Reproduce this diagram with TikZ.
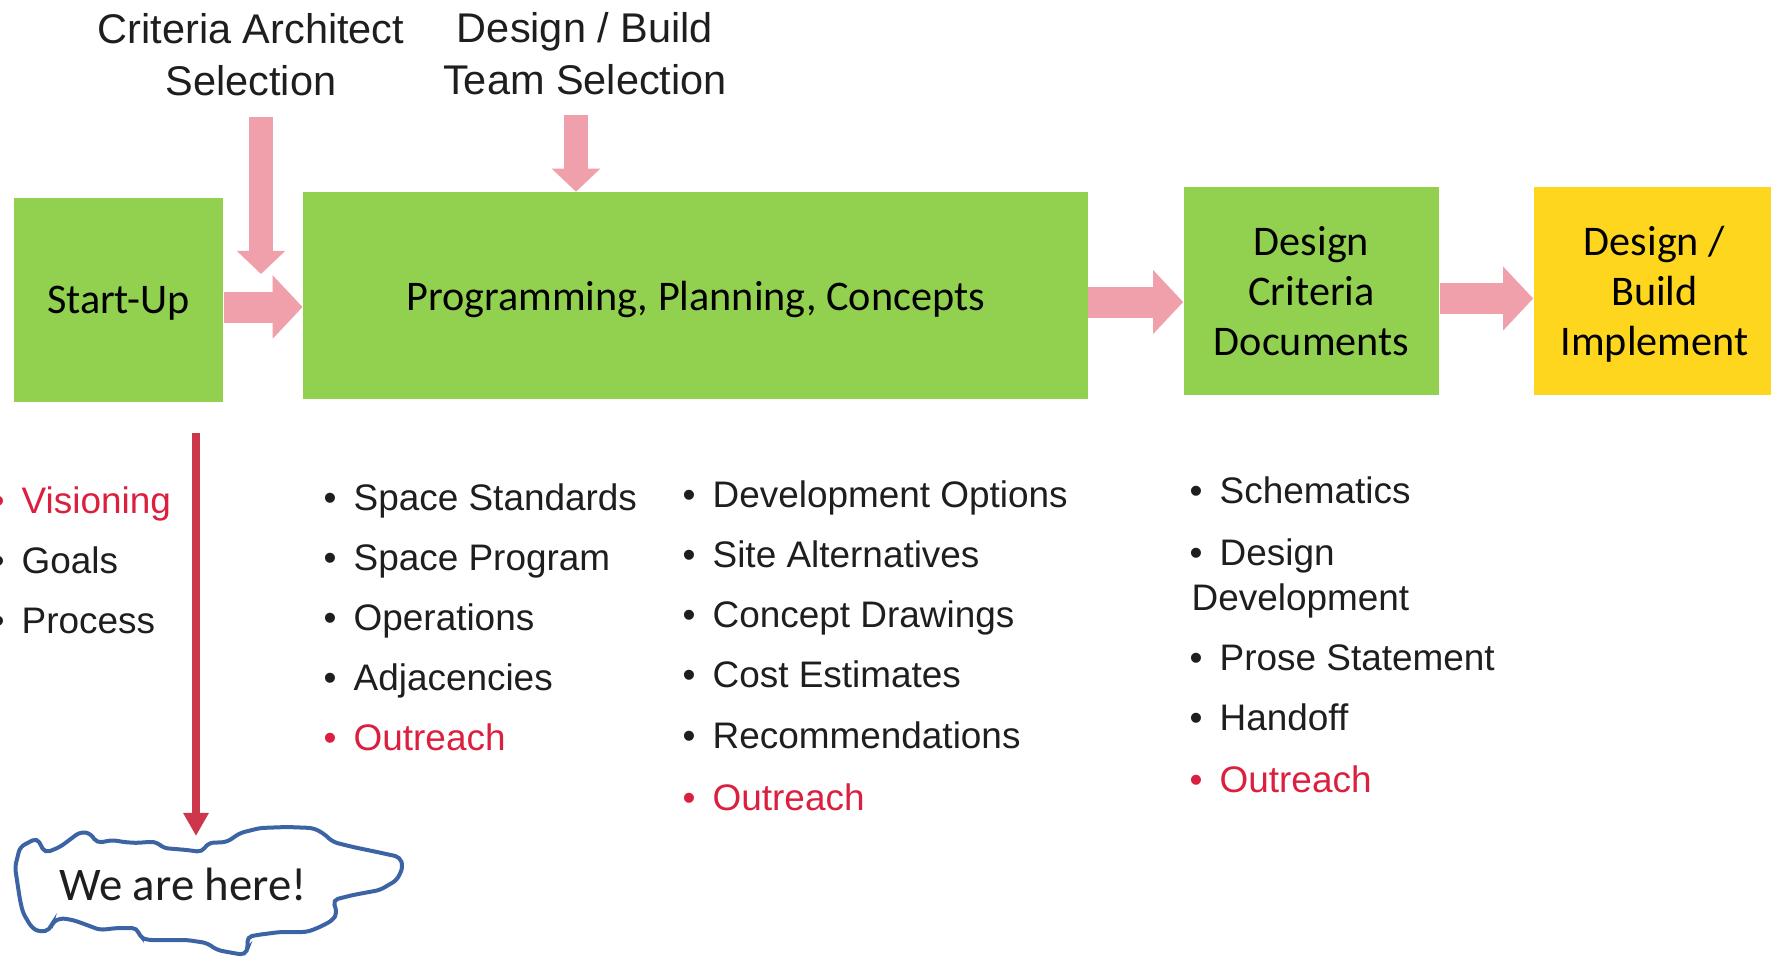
\documentclass[tikz,border=0pt]{standalone}
\usepackage{fontspec}
\setmainfont{Liberation Sans}
\newfontfamily\calibri{Carlito}
\usetikzlibrary{arrows.meta}
\definecolor{boxgreen}{RGB}{146,208,80}
\definecolor{boxyellow}{RGB}{255,214,30}
\definecolor{arrowpink}{RGB}{240,160,170}
\definecolor{textred}{RGB}{218,32,62}
\definecolor{linered}{RGB}{205,55,75}
\definecolor{cloudblue}{RGB}{60,100,165}
\definecolor{textgray}{RGB}{30,30,30}
\newcommand{\itm}[1]{\makebox[0pt][r]{\textbullet\hspace{4.85pt}}#1}
\begin{document}
\begin{tikzpicture}[
		x=0.01cm, y=-0.01cm,
		stage/.style={fill=boxgreen, inner sep=0pt, align=center, text=black,
				font=\calibri\fontsize{12}{14.2}\selectfont},
		toptext/.style={align=center, inner sep=0pt, text=textgray,
				font=\fontsize{11.8}{14.8}\selectfont},
		item/.style={anchor=base west, inner sep=0pt, text=textgray,
				font=\fontsize{10.5}{12.6}\selectfont},
		fat/.style={draw=arrowpink, line width=0.31cm, -{Triangle[length=0.3cm,width=0.62cm]}},
		drop/.style={draw=arrowpink, line width=0.235cm, -{Triangle[length=0.23cm,width=0.47cm]}}
	]
	\useasboundingbox (0,0) rectangle (1771,960);

	% process boxes
	\node[stage, text depth=0pt, minimum width=2.09cm, minimum height=2.04cm] (startup) at (118.5,300) {Start-Up};
	\node[stage, text depth=0pt, minimum width=7.84cm, minimum height=2.06cm] (prog) at (695.5,295.5) {Programming, Planning, Concepts};
	\node[stage, minimum width=2.55cm, minimum height=2.07cm] (dcd) at (1311.5,291) {Design\\Criteria\\Documents};
	\node[stage, fill=boxyellow, text depth=0pt, minimum width=2.41cm, minimum height=2.07cm] (dbi) at (1654.5,291) {Design /\\Build\\Implement};

	% selections from above
	\node[toptext] (archsel) at (251,55) {Criteria Architect\\Selection};
	\node[toptext] (teamsel) at (585,54) {Design / Build\\Team Selection};
	\coordinate (archtop) at (261,117);
	\coordinate (archtip) at (261,274);
	\coordinate (teamtop) at (576,115);
	\draw[drop] (archtop) -- (archtip);
	\draw[drop] (teamtop) -- (teamtop |- prog.north);

	% flow arrows
	\draw[fat] ([yshift=-0.07cm]startup.east) -- ([yshift=-0.07cm]startup.east -| prog.west);
	\draw[fat] ([yshift=-0.065cm]prog.east) -- ([yshift=-0.065cm]prog.east -| dcd.west);
	\draw[fat] ([yshift=-0.075cm]dcd.east) -- ([yshift=-0.075cm]dcd.east -| dbi.west);

	% start-up items
	\node[item, text=textred] (vis) at (21,513) {\itm{Visioning}};
	\node[item] (goals) at (21,573) {\itm{Goals}};
	\node[item] (proc) at (21,633) {\itm{Process}};

	% programming items
	\foreach \txt [count=\i] in {Space Standards, Space Program, Operations, Adjacencies}
	\node[item] (space\i) at (353,{510+60*(\i-1)}) {\itm{\txt}};
	\node[item, text=textred] (space5) at (353,750) {\itm{Outreach}};

	\foreach \txt [count=\i] in {Development Options, Site Alternatives, Concept Drawings, Cost Estimates, Recommendations}
	\node[item] (opt\i) at (712,{507+60.3*(\i-1)}) {\itm{\txt}};
	\node[item, text=textred] (opt6) at (712,810) {\itm{Outreach}};

	% design criteria items
	\node[item] (crit1) at (1219,503) {\itm{Schematics}};
	\node[item] (crit2) at (1219,565) {\itm{Design}};
	\node[item] (crit2b) at (1191,610) {Development};
	\node[item] (crit3) at (1219,670) {\itm{Prose Statement}};
	\node[item] (crit4) at (1219,730) {\itm{Handoff}};
	\node[item, text=textred] (crit5) at (1219,792) {\itm{Outreach}};

	% we are here
	\coordinate (marktop) at (196,433);
	\coordinate (marktip) at (196,836);
	\draw[linered, line width=0.07cm, -{Triangle[length=0.23cm,width=0.24cm]}] (marktop) -- (marktip);
	\draw[cloudblue, line width=0.04cm, rounded corners=0.05cm]
	(15,867) -- (20,847) -- (37,838) -- (45,853) -- (60,847) -- (80,832) -- (90,833) -- (97,843)
	-- (113,840) -- (123,842) -- (137,843) -- (147,842) -- (157,842) -- (163,848) -- (187,850)
	-- (202,852) -- (208,843) -- (227,842) -- (240,833) -- (260,828) -- (287,827) -- (313,828)
	-- (323,833) -- (333,842) -- (353,847) -- (377,852) -- (400,857) -- (403,867) -- (397,880)
	-- (380,890) -- (353,895) -- (333,900) -- (337,913) -- (333,920) -- (320,927) -- (307,932)
	-- (280,932) -- (257,935) -- (247,937) -- (248,947) -- (245,955) -- (233,953) -- (217,950)
	-- (207,943) -- (187,940) -- (147,940) -- (140,937) -- (137,928) -- (117,928) -- (100,930)
	-- (87,925) -- (73,920) -- (60,918) -- (52,923) -- (50,930) -- (40,932) -- (32,928)
	-- (23,913) -- (20,900) -- cycle;
	\node[text=textgray, font=\calibri\fontsize{13.3}{16}\selectfont] (here) at (183,884) {We are here!};
\end{tikzpicture}
\end{document}
